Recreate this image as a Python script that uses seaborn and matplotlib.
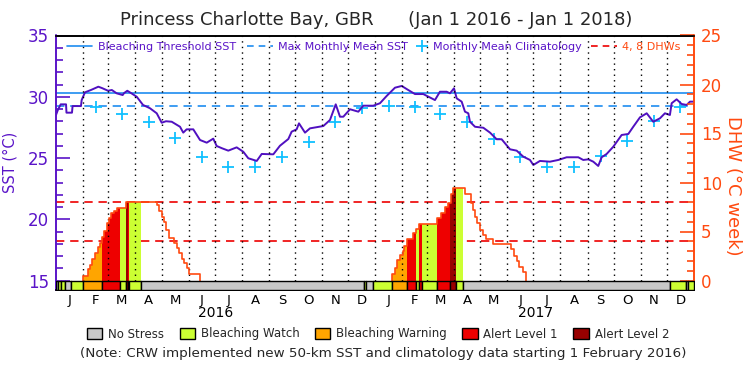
import numpy as np
import pandas as pd
import matplotlib
matplotlib.use("Agg")
import matplotlib.pyplot as plt
import matplotlib.transforms as mtransforms
from matplotlib.lines import Line2D
from matplotlib.patches import Patch
from matplotlib.ticker import MultipleLocator
import seaborn as sns

sns.set_theme(style="white")
plt.rcParams['font.family'] = ['DejaVu Sans']

# ---------------- data (days since 2016-01-01) ----------------
sst_day = [0, 2, 5.4, 11.5, 12, 18.3, 19, 28.6, 29.4, 33.2, 40, 48.5, 53, 59.6, 64, 69.5,
           76.4, 78, 81.7, 86, 92.5, 99.7, 107.7, 115.4, 118, 121.1, 126, 132.6, 142.1,
           145.8, 149.7, 157.3, 165, 172.7, 180.2, 184.1, 190, 197.4, 207, 214.6, 220.3,
           230, 235.7, 249, 256.6, 266.2, 270, 275.7, 278.4, 285.3, 291, 306.3, 313.9,
           320.5, 325.4, 329.2, 336.9, 346.4, 352.1, 363.5, 371.2, 378.8, 388.4, 396.1,
           403.6, 411.3, 420.8, 430.4, 434.2, 439.9, 447.6, 451.4, 456, 459.1, 464.8,
           468.6, 472.4, 474.3, 480.1, 489.6, 497.3, 504.9, 510.6, 520.2, 527.8, 535.4,
           543.1, 546.9, 554.5, 566, 575.5, 585.1, 598.4, 604.1, 609.9, 615.6, 621.3,
           625.2, 630.9, 638.5, 648.1, 655.7, 661.4, 669.1, 676.8, 684.3, 692, 697.7,
           703.4, 705.4, 711.1, 716.8, 722.6, 726.4, 731]
sst_val = [28.51, 28.9, 29.38, 29.38, 28.70, 28.70, 29.24, 29.24, 29.73, 30.36, 30.55, 30.82,
           30.7, 30.49, 30.55, 30.28, 30.14, 30.3, 30.49, 30.3, 30.0, 29.33, 29.06, 28.65,
           28.3, 27.88, 28.0, 27.96, 27.55, 27.07, 27.34, 27.34, 26.47, 26.25, 26.58, 25.98,
           25.8, 25.60, 25.87, 25.51, 24.98, 24.76, 25.33, 25.30, 26.0, 26.55, 27.15, 27.34,
           27.83, 27.07, 27.42, 27.61, 28.10, 29.38, 28.37, 28.37, 28.98, 28.78, 29.27,
           29.27, 29.47, 30.06, 30.74, 30.88, 30.55, 30.22, 30.22, 29.87, 29.73, 30.41,
           30.41, 30.28, 30.69, 29.87, 29.60, 28.78, 28.65, 27.96, 27.55, 27.47, 27.07,
           26.53, 26.53, 25.71, 25.60, 25.11, 24.84, 24.43, 24.76, 24.70, 24.84, 25.06,
           25.06, 24.84, 24.89, 24.70, 24.35, 25.06, 25.33, 25.92, 26.88, 26.96, 27.55,
           28.32, 28.65, 27.96, 28.24, 28.65, 28.51, 29.47, 29.79, 29.41, 29.33, 29.60, 29.60]

# monthly mean climatology, Feb 2016 .. Dec 2017
clim_val = [29.14, 28.57, 27.96, 26.61, 25.11, 24.29, 24.24, 25.11, 26.33, 27.96, 29.11,
            29.24, 29.14, 28.57, 27.96, 26.55, 25.11, 24.29, 24.24, 25.16, 26.39, 28.02, 29.14]
threshold_sst = 30.28
mmm_sst = 29.28
dhw_levels = [4, 8]

dhw16_day = [31.3, 31.3, 36.3, 39, 41.6, 44.7, 48.5, 50.4, 53, 55.4, 58.1, 61, 63.5, 66, 70.3,
             80.2, 115.4, 118, 121.8, 124.1, 126, 129.9, 135.2, 138.3, 141.3, 144, 146.7,
             149.7, 152.7, 165]
dhw16_val = [0, 0.49, 1.14, 1.58, 2.19, 2.84, 3.45, 3.86, 4.47, 5.08, 5.84, 6.35, 6.86, 7.09,
             7.43, 8.04, 7.70, 7.09, 6.51, 6.0, 5.15, 4.3, 3.8, 3.28, 2.77, 2.19, 1.75, 1.24,
             0.63, 0]
dhw17_day = [384.6, 384.6, 388.4, 391, 394.1, 397.2, 399, 402.5, 408.6, 412.5, 416.2, 436.9,
             440.7, 445.7, 449.5, 452.2, 454.5, 469, 475.1, 477.4, 480.1, 482.7, 485.8, 488.9,
             492.7, 501.1, 521.3, 524.7, 527.8, 530.8, 534.7, 538.1]
dhw17_val = [0, 0.63, 1.31, 2.09, 2.6, 3.01, 3.55, 4.2, 4.88, 5.22, 5.77, 6.35, 6.92, 7.47,
             7.94, 8.83, 9.41, 8.83, 7.88, 7.19, 6.51, 5.84, 5.15, 4.64, 4.2, 3.72, 3.18, 2.5,
             1.99, 1.41, 0.9, 0]

stress_start = [0, 2.6, 5.4, 10.3, 17.2, 31.3, 53, 73, 80.2, 82.5, 84, 97.5, 353, 355.5, 363,
                384.6, 402.5, 413, 416, 419.7, 437, 451.4, 458.3, 466, 704, 721.5, 724.5]
stress_level = [0, 1, 1, 0, 1, 2, 3, 1, 4, 3, 1, 0, 1, 0, 1, 2, 3, 1, 3, 1, 3, 4, 1, 0, 1, 0, 1]
stress_names = ["No Stress", "Bleaching Watch", "Bleaching Warning", "Alert Level 1", "Alert Level 2"]
stress_colors = ["#C8C8C8", "#CCFF33", "#FFA500", "#EE0000", "#990000"]

month_labels = list("JFMAMJJASOND") * 2
year_labels = ["2016", "2017"]

title = "Princess Charlotte Bay, GBR      (Jan 1 2016 - Jan 1 2018)"
note = "(Note: CRW implemented new 50-km SST and climatology data starting 1 February 2016)"

# ---------------- styling ----------------
PURPLE = "#5A14C8"
SSTC = "#5010C0"
BLUE = "#1E8CF0"
CYAN = "#10C0FF"
ORANGE = "#FF4A10"
RED = "#EE0000"
DASH = (0, (5, 3.5))

t0 = pd.Timestamp("2016-01-01")
mstarts = [(d - t0).days for d in pd.date_range("2016-01-01", "2018-01-01", freq="MS")]
mmid = [(a + b) / 2 for a, b in zip(mstarts[:-1], mstarts[1:])]
total = mstarts[-1]

fig = plt.figure(figsize=(7.5, 3.75), dpi=100)
ax = fig.add_axes([56 / 750, 1 - 290 / 375, 638 / 750, (290 - 35.5) / 375])
ax2 = ax.twinx()

ax.set_xlim(0, total)
ax.set_ylim(35 - (290 - 35.5) / 12.25, 35)
ax2.set_ylim(-(290 - 280.5) / 9.8, 25)

# SST, thresholds, climatology
ax.axhline(threshold_sst, color=BLUE, lw=1.2, zorder=2)
ax.axhline(mmm_sst, color=BLUE, lw=1.2, ls=DASH, zorder=2)
sns.lineplot(x=sst_day, y=sst_val, ax=ax, color=SSTC, lw=1.4, estimator=None, sort=False, zorder=4)
sns.scatterplot(x=mmid[1:], y=clim_val, ax=ax, marker="+", s=75, color=CYAN, linewidth=1.3, zorder=3)
ax.set_xlabel("")

# DHW dashed levels
for lv in dhw_levels:
    ax2.axhline(lv, color=RED, lw=1.2, ls=DASH, zorder=1)

all_day = np.array(dhw16_day + dhw17_day)
all_val = np.array(dhw16_val + dhw17_val)

def dhw_at(d):
    i = np.searchsorted(all_day, d, side="right") - 1
    return all_val[i] if i >= 0 else 0.0

ends = stress_start[1:] + [total]
bar_bottom = ax2.get_ylim()[0]
for a, b, lv in zip(stress_start, ends, stress_level):
    if lv > 0:
        xs = [a] + [d for d in all_day if a < d < b] + [b]
        ys = [dhw_at(x) for x in xs]
        ax2.fill_between(xs, 0, ys, step="post", color=stress_colors[lv], lw=0, zorder=2)
    ax2.broken_barh([(a, b - a)], (bar_bottom, -bar_bottom), facecolors=stress_colors[lv],
                    edgecolor="black", lw=1, zorder=5)

ax2.vlines(mstarts[1:-1], 0, 25, colors="black", linestyles=(0, (1, 3)), lw=1, zorder=3)

for dd, vv in [(dhw16_day, dhw16_val), (dhw17_day, dhw17_val)]:
    sns.lineplot(x=dd, y=vv, ax=ax2, color=ORANGE, lw=1.2, estimator=None, sort=False,
                 drawstyle="steps-post", zorder=4)

# axes styling
for a_ in (ax, ax2):
    a_.spines["top"].set_color("black")
    a_.spines["bottom"].set_color("black")
    a_.spines["left"].set_color(PURPLE)
    a_.spines["right"].set_color(ORANGE)
    for s in a_.spines.values():
        s.set_linewidth(1.2)
    a_.grid(False)

ax.yaxis.set_major_locator(MultipleLocator(5))
ax.yaxis.set_minor_locator(MultipleLocator(1))
ax.tick_params(axis="y", which="major", direction="in", length=10, width=1.2,
               colors=PURPLE, labelsize=12, pad=5, left=True)
ax.tick_params(axis="y", which="minor", direction="in", length=5, width=1.2, colors=PURPLE, left=True)
ax2.yaxis.set_major_locator(MultipleLocator(5))
ax2.yaxis.set_minor_locator(MultipleLocator(1))
ax2.tick_params(axis="y", which="major", direction="in", length=10, width=1.2,
                colors=ORANGE, labelsize=12, pad=5, right=True)
ax2.tick_params(axis="y", which="minor", direction="in", length=5, width=1.2, colors=ORANGE, right=True)
ax2.set_yticks([0, 5, 10, 15, 20, 25])

ax.set_xticks(mmid)
ax.set_xticklabels(month_labels)
ax.tick_params(axis="x", length=0, labelsize=9.5, pad=3, colors="black")

trans = mtransforms.blended_transform_factory(ax.transData, ax.transAxes)
for i, yl in enumerate(year_labels):
    ax.text(mstarts[12 * i] + 183, -0.09, yl, transform=trans, ha="center", va="center",
            fontsize=10, color="black")

ax.set_ylabel("SST (°C)", color=PURPLE, fontsize=10.5)
ax.yaxis.set_label_coords(-0.061, 0.5)
ax2.set_ylabel("DHW (°C week)", color=ORANGE, fontsize=13, rotation=270, va="center")
ax2.yaxis.set_label_coords(1.061, 0.41)

# top legend (three pieces so the cross entry stays compact)
legkw = dict(loc="center left", frameon=False, fontsize=8, handletextpad=0.5,
             borderpad=0, borderaxespad=0)
leg1 = ax2.legend([Line2D([], [], color=BLUE, lw=1.2), Line2D([], [], color=BLUE, lw=1.2, ls=(0, (4, 3)))],
                  ["Bleaching Threshold SST", "Max Monthly Mean SST"], ncol=2,
                  bbox_to_anchor=(0.017, 0.955), handlelength=2.3, columnspacing=1.0, **legkw)
ax2.add_artist(leg1)
leg2 = ax2.legend([Line2D([], [], color=CYAN, marker="+", ls="none", ms=8, mew=1.3)],
                  ["Monthly Mean Climatology"], bbox_to_anchor=((416 - 56) / 638, 0.955),
                  handlelength=1.0, **legkw)
ax2.add_artist(leg2)
leg3 = ax2.legend([Line2D([], [], color=RED, lw=1.2, ls=(0, (4, 3)))], ["4, 8 DHWs"],
                  bbox_to_anchor=((591 - 56) / 638, 0.955), handlelength=2.3, **legkw)
for lg, c in [(leg1, PURPLE), (leg2, PURPLE), (leg3, ORANGE)]:
    for t in lg.get_texts():
        t.set_color(c)

# bottom legend
phandles = [Patch(facecolor=c, edgecolor="black", lw=1) for c in stress_colors]
fig.legend(phandles, stress_names, ncol=5, loc="center", bbox_to_anchor=(0.504, 1 - 334 / 375),
           frameon=False, fontsize=8.5, handlelength=1.3, handleheight=1.1,
           columnspacing=1.3, handletextpad=0.5, borderpad=0)

fig.text(0.511, 1 - 354 / 375, note, ha="center", va="center", fontsize=9.7)
fig.text(0.501, 1 - 20 / 375, title, ha="center", va="center", fontsize=13)

fig.savefig("out.png", dpi=100)
